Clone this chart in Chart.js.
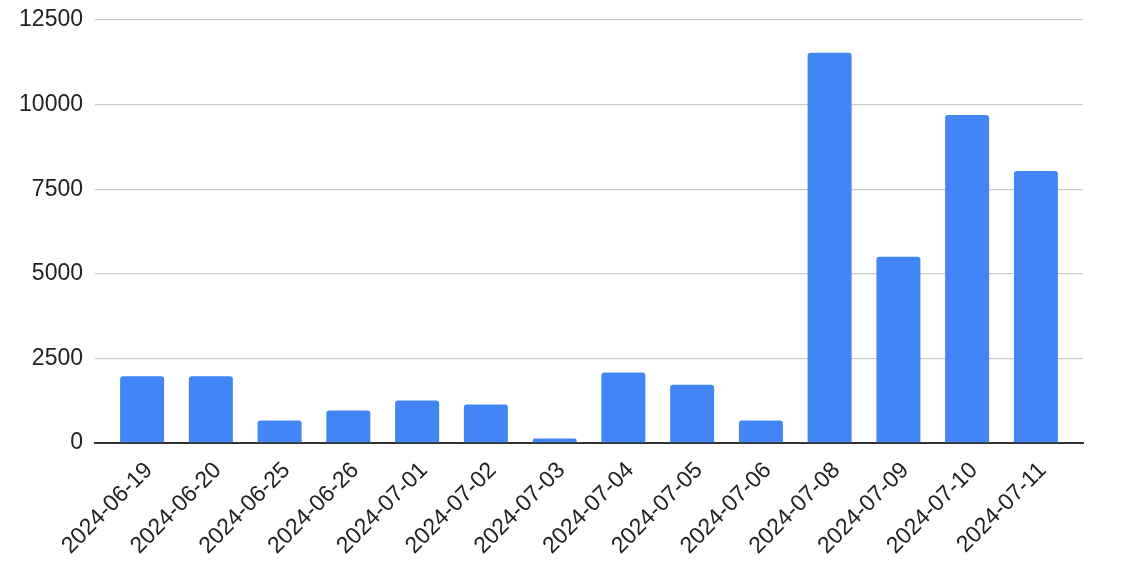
<!DOCTYPE html>
<html>
<head>
    <meta charset="UTF-8">
    <script src="https://cdn.jsdelivr.net/npm/chart.js"></script>
    <style>
        html, body { margin: 0; padding: 0; background: #fff; }
        #wrap { width: 1121px; height: 571px; }
    </style>
</head>
<body>
<div id="wrap"><canvas id="chart"></canvas></div>
<script>
    const labels = ["2024-06-19", "2024-06-20", "2024-06-25", "2024-06-26", "2024-07-01", "2024-07-02", "2024-07-03",
        "2024-07-04", "2024-07-05", "2024-07-06", "2024-07-08", "2024-07-09", "2024-07-10", "2024-07-11"];
    const values = [1975, 1975, 665, 960, 1255, 1140, 135, 2080, 1725, 665, 11530, 5505, 9690, 8035];
    const yTicks = [0, 2500, 5000, 7500, 10000, 12500];

    const font = { family: "'Liberation Sans', Arial, sans-serif", size: 23 };

    new Chart(document.getElementById("chart"), {
        type: "bar",
        data: {
            datasets: [{
                data: values.map((v, i) => ({ x: i, y: v })),
                backgroundColor: "#4285f4",
                borderRadius: { topLeft: 3, topRight: 3 },
                borderSkipped: "bottom",
                barPercentage: 0.64,
                categoryPercentage: 1
            }]
        },
        options: {
            responsive: true,
            maintainAspectRatio: false,
            animation: false,
            layout: { padding: { top: 20, right: 38, left: 0, bottom: 0 } },
            plugins: { legend: { display: false }, tooltip: { enabled: false } },
            scales: {
                x: {
                    type: "linear",
                    offset: false,
                    min: -0.685,
                    max: 13.685,
                    afterBuildTicks: s => { s.ticks = labels.map((_, i) => ({ value: i })); },
                    afterFit: s => { s.height = 128; s.paddingLeft = 0; s.paddingRight = 0; },
                    grid: { display: false },
                    border: { color: "#333", width: 2 },
                    ticks: {
                        callback: v => labels[v],
                        minRotation: 45,
                        maxRotation: 45,
                        autoSkip: false,
                        color: "#222",
                        font: font,
                        padding: 6,
                        labelOffset: 7
                    }
                },
                y: {
                    min: 0,
                    max: 12500,
                    afterBuildTicks: s => { s.ticks = yTicks.map(v => ({ value: v })); },
                    afterFit: s => { s.width = 95; s.paddingTop = 0; s.paddingBottom = 0; },
                    border: { display: false },
                    grid: { color: "#cccccc", lineWidth: 1.3, drawTicks: false },
                    ticks: { callback: v => String(v), color: "#222", font: font, padding: 12 }
                }
            }
        }
    });
</script>
</body>
</html>
